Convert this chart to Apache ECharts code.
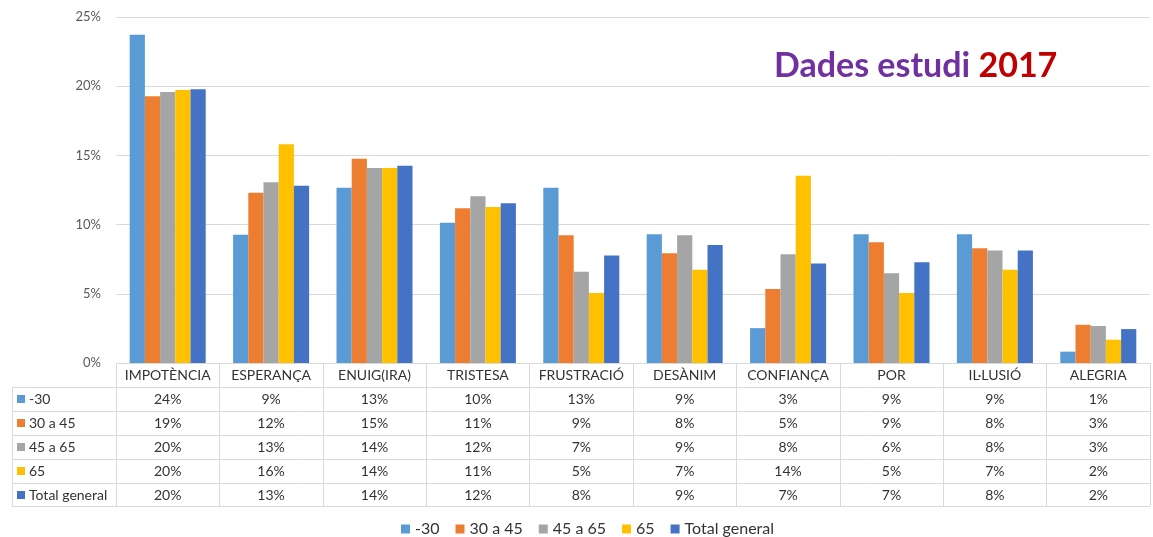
<!DOCTYPE html>
<html>
<head>
<meta charset="utf-8">
<script src="https://cdn.jsdelivr.net/npm/echarts@6/dist/echarts.min.js"></script>
<style>
  html, body { margin: 0; padding: 0; background: #fff; }
  #chart { width: 1153px; height: 537px; }
</style>
</head>
<body>
<div id="chart"></div>
<script>
//---------------------------Data---------------------------
let categories = ['IMPOTÈNCIA', 'ESPERANÇA', 'ENUIG(IRA)', 'TRISTESA', 'FRUSTRACIÓ', 'DESÀNIM', 'CONFIANÇA', 'POR', 'IL·LUSIÓ', 'ALEGRIA'];
let seriesNames = ['-30', '30 a 45', '45 a 65', '65', 'Total general'];

//values in %
let under30 = [23.72, 9.27, 12.67, 10.14, 12.67, 9.30, 2.52, 9.30, 9.30, 0.82];
let from30to45 = [19.27, 12.31, 14.76, 11.18, 9.23, 7.93, 5.34, 8.73, 8.29, 2.76];
let from45to65 = [19.58, 13.06, 14.09, 12.04, 6.59, 9.23, 7.86, 6.49, 8.13, 2.67];
let over65 = [19.73, 15.80, 14.09, 11.27, 5.05, 6.73, 13.53, 5.05, 6.73, 1.68];
let totalGeneral = [19.78, 12.81, 14.25, 11.54, 7.76, 8.53, 7.19, 7.28, 8.13, 2.45];

let yTicks = { min: 0, max: 25, interval: 5 };

let colors = ['#5B9BD5', '#ED7D31', '#A5A5A5', '#FFC000', '#4472C4'];
let allValues = [under30, from30to45, from45to65, over65, totalGeneral];

//---------------------------Layout---------------------------
let gridLeft = 116, gridRight = 3, gridTop = 17, gridBottom = 174;
let chartW = 1153, chartH = 537;
let axisY = chartH - gridBottom;   // 363
let rowH = 24;
let tableLeft = 12;
let lineColor = '#d9d9d9';
let font = 'Lato, "Open Sans", sans-serif';

let chart = echarts.init(document.getElementById('chart'));

//table borders + row labels
let graphics = [];
for (let r = 1; r <= seriesNames.length + 1; r++) {
    let y = axisY + r * rowH - (r > 5 ? 1 : 0);
    graphics.push({
        type: 'line', silent: true,
        shape: { x1: tableLeft, y1: y + 0.5, x2: chartW - gridRight, y2: y + 0.5 },
        style: { stroke: lineColor, lineWidth: 1 }
    });
}
graphics.push({
    type: 'line', silent: true,
    shape: { x1: tableLeft + 0.5, y1: axisY + rowH, x2: tableLeft + 0.5, y2: axisY + 6 * rowH - 1 },
    style: { stroke: lineColor, lineWidth: 1 }
});
for (let i = 0; i < seriesNames.length; i++) {
    let cy = axisY + rowH * (i + 1) + rowH / 2;
    graphics.push({
        type: 'rect', silent: true,
        shape: { x: 17, y: cy - 4, width: 8, height: 8 },
        style: { fill: colors[i] }
    });
    graphics.push({
        type: 'text', silent: true,
        style: {
            x: 29, y: cy, text: seriesNames[i], fill: '#333',
            font: '14px ' + font, verticalAlign: 'middle'
        }
    });
}

let series = [];
for (let i = 0; i < seriesNames.length; i++) {
    series.push({
        name: seriesNames[i],
        type: 'bar',
        data: allValues[i],
        barGap: '0%',
        barCategoryGap: '26.5%',
        itemStyle: { color: colors[i] },
        emphasis: { disabled: true }
    });
}

let option = {
    animation: false,
    color: colors,
    textStyle: { fontFamily: font },
    title: {
        text: '{a|Dades estudi }{b|2017}',
        left: 769, top: 44,
        textStyle: {
            rich: {
                a: { fontSize: 34, fontWeight: 'bold', color: '#7030A0', fontFamily: font },
                b: { fontSize: 34, fontWeight: 'bold', color: '#C00000', fontFamily: font }
            }
        }
    },
    legend: {
        data: seriesNames,
        top: 516,
        left: 396,
        icon: 'rect',
        itemWidth: 9,
        itemHeight: 9,
        itemGap: 16,
        textStyle: { fontSize: 16, color: '#333', fontFamily: font }
    },
    grid: { left: gridLeft, right: gridRight, top: gridTop, bottom: gridBottom, containLabel: false },
    xAxis: {
        type: 'category',
        data: categories,
        axisLine: { lineStyle: { color: lineColor } },
        axisTick: { show: true, length: 6 * rowH - 1, lineStyle: { color: lineColor } },
        axisLabel: {
            interval: 0,
            margin: 0,
            lineHeight: rowH,
            fontSize: 14,
            color: '#333',
            fontFamily: font,
            formatter: function (value, index) {
                let lines = [value];
                for (let i = 0; i < allValues.length; i++) {
                    lines.push(Math.round(allValues[i][index]) + '%');
                }
                return lines.join('\n');
            }
        }
    },
    yAxis: {
        type: 'value',
        min: yTicks.min,
        max: yTicks.max,
        interval: yTicks.interval,
        axisLine: { show: false },
        axisTick: { show: false },
        splitLine: { lineStyle: { color: lineColor } },
        axisLabel: { formatter: '{value}%', fontSize: 13, color: '#595959', margin: 15, fontFamily: font }
    },
    graphic: graphics,
    series: series
};

chart.setOption(option);
</script>
</body>
</html>
